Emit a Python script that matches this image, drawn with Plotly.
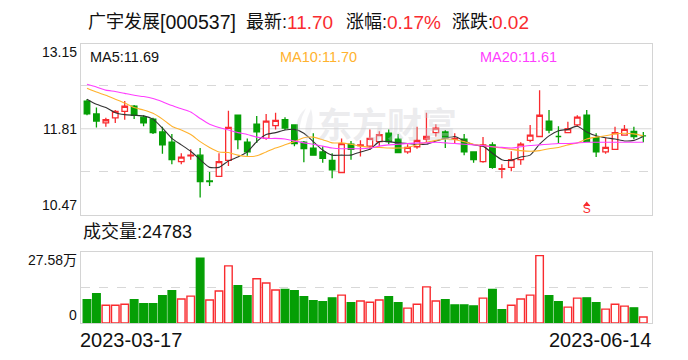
import plotly.graph_objects as go

W, H = 688, 360
idx = list(range(60))
is_red = [0,0,1,1,1,0,0,0,0,0,1,1,0,0,1,1,0,0,0,1,1,0,0,0,0,0,0,1,0,1,
          1,1,0,0,1,1,1,1,0,1,0,0,1,0,1,1,1,1,1,0,0,1,1,0,0,1,1,1,0,0]
body_top = [12.24,12.04,11.95,12.08,12.16,12.16,11.99,11.96,11.76,11.60,11.37,11.40,11.40,11.00,11.30,11.83,12.02,11.60,11.88,11.93,
            11.94,11.95,11.87,11.60,11.51,11.45,11.32,11.58,11.57,11.56,11.66,11.72,11.74,11.65,11.52,11.63,11.69,11.82,11.76,11.66,
            11.65,11.45,11.56,11.56,11.19,11.33,11.57,11.71,12.02,11.93,11.69,11.81,11.99,12.02,11.67,11.52,11.75,11.80,11.77,11.70]
body_bot = [12.04,11.93,11.90,11.98,12.08,12.02,11.90,11.75,11.56,11.33,11.30,11.39,10.99,10.99,11.07,11.32,11.64,11.45,11.76,11.66,
            11.86,11.82,11.58,11.50,11.40,11.35,11.17,11.13,11.49,11.55,11.54,11.61,11.61,11.44,11.45,11.53,11.65,11.75,11.67,11.65,
            11.45,11.33,11.30,11.21,11.18,11.21,11.33,11.63,11.69,11.79,11.69,11.75,11.87,11.61,11.45,11.45,11.49,11.71,11.69,11.70]
highs = [12.27,12.14,11.98,12.10,12.24,12.18,12.02,11.98,11.84,11.73,11.43,11.49,11.51,11.14,11.43,12.09,12.02,11.66,12.01,12.04,
         12.06,11.99,11.87,11.62,11.74,11.54,11.43,11.66,11.62,11.63,11.80,11.77,11.80,11.73,11.57,11.84,12.06,11.88,11.79,11.74,
         11.73,11.45,11.68,11.60,11.26,11.46,11.60,11.87,12.41,12.10,11.85,11.92,12.02,12.10,11.74,11.67,11.84,11.87,11.84,11.76]
lows = [12.02,11.83,11.84,11.90,11.95,11.96,11.85,11.73,11.42,11.26,11.26,11.33,10.74,10.92,11.06,11.23,11.49,11.39,11.59,11.64,
        11.80,11.79,11.54,11.29,11.40,11.28,11.04,11.13,11.33,11.38,11.48,11.54,11.57,11.44,11.42,11.50,11.60,11.69,11.51,11.58,
        11.40,11.28,11.28,11.19,11.04,11.15,11.25,11.60,11.69,11.74,11.58,11.74,11.84,11.60,11.37,11.42,11.49,11.70,11.65,11.60]
ma5 = [12.27,12.19,12.14,12.06,12.03,12.02,12.01,11.96,11.82,11.66,11.56,11.46,11.33,11.21,11.21,11.31,11.37,11.45,11.61,11.72,
       11.75,11.79,11.80,11.74,11.61,11.48,11.40,11.40,11.40,11.45,11.49,11.61,11.61,11.59,11.58,11.57,11.57,11.62,11.66,11.69,
       11.62,11.56,11.54,11.43,11.33,11.32,11.37,11.40,11.57,11.70,11.78,11.80,11.85,11.76,11.70,11.67,11.65,11.62,11.63,11.69]
ma10 = [12.44,12.38,12.33,12.27,12.21,12.14,12.10,12.05,11.96,11.85,11.79,11.72,11.61,11.52,11.45,11.44,11.40,11.38,11.39,11.45,
        11.51,11.56,11.61,11.67,11.68,11.64,11.59,11.59,11.57,11.54,11.52,11.52,11.51,11.51,11.52,11.56,11.60,11.63,11.65,11.64,
        11.61,11.57,11.55,11.53,11.51,11.49,11.47,11.46,11.47,11.50,11.52,11.56,11.59,11.65,11.68,11.70,11.73,11.74,11.73,11.70]
ma20 = [12.50,12.46,12.41,12.39,12.36,12.33,12.31,12.28,12.23,12.17,12.12,12.07,11.97,11.88,11.83,11.79,11.75,11.72,11.68,11.66,
        11.66,11.65,11.62,11.59,11.57,11.54,11.51,11.50,11.50,11.50,11.51,11.54,11.56,11.57,11.58,11.59,11.59,11.60,11.59,11.58,
        11.57,11.56,11.55,11.53,11.52,11.51,11.53,11.55,11.56,11.57,11.58,11.58,11.59,11.60,11.60,11.60,11.60,11.60,11.60,11.60]
volume = [9.5,12.0,7.3,7.3,7.7,9.5,7.9,7.9,11.2,13.2,9.8,11.0,26.5,9.4,13.1,23.4,15.3,11.2,18.1,16.4,
          13.5,13.7,13.2,10.8,9.1,8.7,10.3,11.4,8.3,9.0,8.5,9.4,10.8,8.3,6.1,7.7,14.8,9.0,9.5,7.4,
          7.4,7.0,10.2,13.7,5.4,7.3,9.8,11.4,27.58,11.2,8.7,6.5,10.2,10.3,8.3,5.7,7.7,6.9,6.2,2.48]
vol_red = [0,0,1,1,1,0,0,0,0,0,1,1,0,1,1,1,0,0,1,1,1,0,0,0,0,0,0,1,0,1,
           1,1,0,0,1,1,1,1,0,0,0,0,1,0,0,1,1,1,1,0,0,1,1,0,0,1,1,1,0,1]
sell_signal_index = 53
sell_arrow_price = 10.635
sell_text_price = 10.54

RED, GREEN = "#F92B2F", "#059F05"
GRID = "#D8D8D8"
FONT = "Liberation Sans, Noto Sans CJK SC, sans-serif"
TEXT = "#111111"

fig = go.Figure()

def candles(flag, color, fill):
    sel = [i for i in idx if is_red[i] == flag]
    o = [body_bot[i] if flag else body_top[i] for i in sel]
    c = [body_top[i] if flag else body_bot[i] for i in sel]
    style = dict(line=dict(color=color, width=1.3), fillcolor=fill)
    fig.add_trace(go.Candlestick(
        x=sel, open=o, close=c, high=[highs[i] for i in sel], low=[lows[i] for i in sel],
        increasing=style, decreasing=style, whiskerwidth=0, showlegend=False,
        hoverinfo="skip", xaxis="x", yaxis="y"))

candles(0, GREEN, GREEN)
candles(1, RED, "#FFFFFF")
for vals, col in [(ma5, "#333333"), (ma10, "#FFB22E"), (ma20, "#FF3DFF")]:
    fig.add_trace(go.Scatter(x=idx, y=vals, mode="lines", showlegend=False, hoverinfo="skip",
                             line=dict(color=col, width=1.1, shape="spline", smoothing=0.6),
                             xaxis="x", yaxis="y"))
fig.add_trace(go.Scatter(x=[sell_signal_index], y=[sell_arrow_price], mode="markers",
                         marker=dict(symbol="triangle-up", size=6, color=RED), showlegend=False,
                         hoverinfo="skip", xaxis="x", yaxis="y"))
fig.add_trace(go.Scatter(x=[sell_signal_index], y=[sell_text_price], mode="text", text=["S"],
                         textfont=dict(color=RED, size=12, family=FONT), showlegend=False,
                         hoverinfo="skip", xaxis="x", yaxis="y"))
fig.add_trace(go.Bar(x=idx, y=volume, width=0.8, showlegend=False, hoverinfo="skip",
                     marker=dict(color=["#FFFFFF" if r else GREEN for r in vol_red],
                                 line=dict(color=[RED if r else GREEN for r in vol_red], width=1.4)),
                     xaxis="x2", yaxis="y2"))

L, R = 80.5, 651.7
xr = [-0.689, 59.89]
common = dict(showline=True, linecolor="#D4D4D4", linewidth=1.2, mirror=True, ticks="", zeroline=False)

def path_x(px):
    return px / W

def path_y(py):
    return 1 - py / H

logo = ("M {} {} Q {} {} {} {} Q {} {} {} {} Z").format(
    path_x(306), path_y(108), path_x(290), path_y(122), path_x(300), path_y(143),
    path_x(297), path_y(125), path_x(306), path_y(108))
logo2 = ("M {} {} Q {} {} {} {} Q {} {} {} {} Z").format(
    path_x(311), path_y(109), path_x(303), path_y(125), path_x(306), path_y(143),
    path_x(316), path_y(125), path_x(311), path_y(109))

fig.update_layout(
    width=W, height=H, margin=dict(l=0, r=0, t=0, b=0), paper_bgcolor="white", plot_bgcolor="white",
    boxgap=0.16, bargap=0.2, font=dict(family=FONT),
    xaxis=dict(domain=[L/W, R/W], range=xr, showgrid=False, showticklabels=False, anchor="y",
               rangeslider=dict(visible=False), **common),
    yaxis=dict(domain=[1-215/H, 1-43.6/H], range=[10.47, 13.133], tickvals=[12.48, 11.14],
               showticklabels=False, gridcolor=GRID, griddash="dash", gridwidth=1, anchor="x", **common),
    xaxis2=dict(domain=[L/W, R/W], range=xr, showgrid=False, showticklabels=False, anchor="y2", **common),
    yaxis2=dict(domain=[1-323/H, 1-251.7/H], range=[0, 29.2], tickvals=[14.6], showticklabels=False,
                gridcolor=GRID, griddash="dash", gridwidth=1, anchor="x2", **common),
    shapes=[dict(type="line", xref="x", yref="y", x0=xr[0], x1=xr[1], y0=11.81, y1=11.81,
                 line=dict(color=GRID, width=1.2), layer="below"),
            dict(type="path", xref="paper", yref="paper", path=logo, line=dict(width=0),
                 fillcolor="rgba(205,205,212,0.3)"),
            dict(type="path", xref="paper", yref="paper", path=logo2, line=dict(width=0),
                 fillcolor="rgba(205,205,212,0.3)")],
)

def label(px, py, text, color=TEXT, size=14, anchor="left", weight=None, family=FONT):
    fig.add_annotation(xref="paper", yref="paper", x=px/W, y=1-py/H, text=text, showarrow=False,
                       xanchor=anchor, yanchor="middle", borderpad=0, borderwidth=0,
                       font=dict(color=color, size=size, family=family, weight=weight))

label(387, 125, "东方财富", color="rgba(205,205,212,0.38)", size=35, anchor="center", weight=700)
for px, text, col, sz in [(88, "广宇发展", TEXT, 18), (160, "[000537]", TEXT, 19.5),
                          (246, "最新:", TEXT, 18), (287, "11.70", RED, 19),
                          (346, "涨幅:", TEXT, 18), (387, "0.17%", RED, 19),
                          (452, "涨跌:", TEXT, 18), (492, "0.02", RED, 19)]:
    label(px, 22, text, color=col, size=sz)
label(90, 57, "MA5:11.69", size=14.5)
label(280, 57, "MA10:11.70", color="#FFB22E", size=14.5)
label(480, 57, "MA20:11.61", color="#FF3DFF", size=14.5)
label(77, 52, "13.15", anchor="right")
label(77, 129, "11.81", anchor="right")
label(77, 205, "10.47", anchor="right")
label(83, 232, "成交量:24783", size=18)
label(77, 260, "27.58万", anchor="right")
label(77, 315, "0", anchor="right")
label(80, 340, "2023-03-17", size=20)
label(651, 340, "2023-06-14", size=20, anchor="right")

fig.write_html("out.html", config=dict(displayModeBar=False),
               post_script="document.body.style.margin='0';document.body.style.overflow='hidden';")
